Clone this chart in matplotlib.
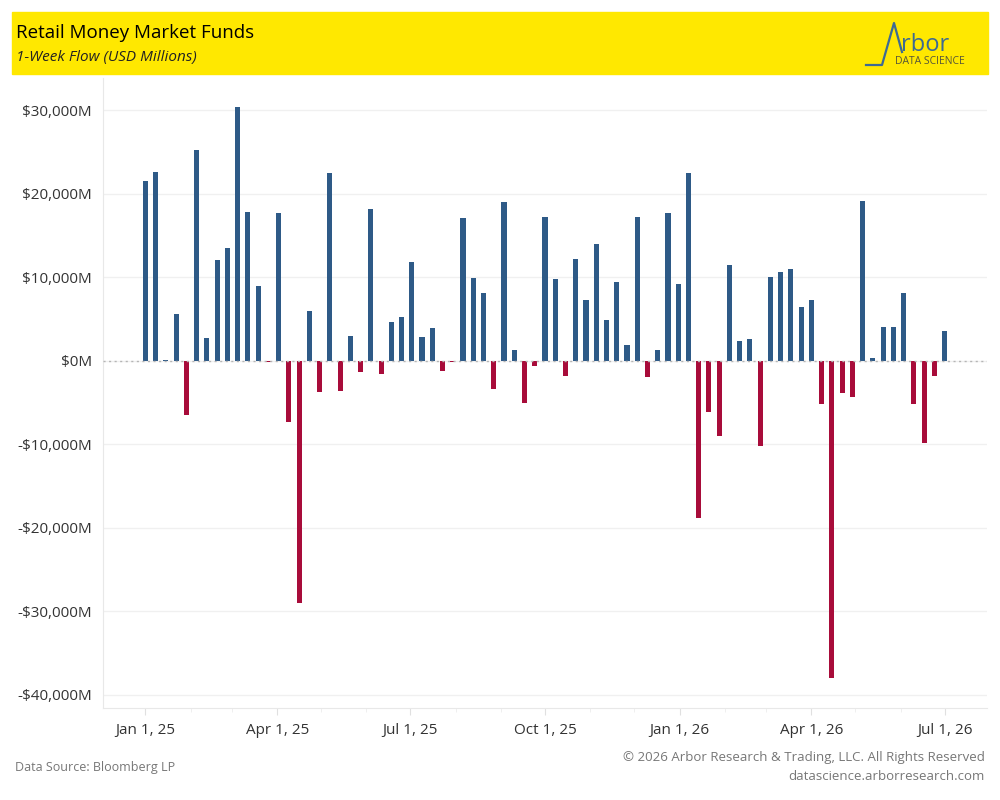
import matplotlib
matplotlib.use("Agg")
import matplotlib.pyplot as plt
import matplotlib.dates as mdates
import matplotlib.ticker as mticker
from matplotlib.patches import Rectangle
from matplotlib.lines import Line2D
import numpy as np
import pandas as pd

# weekly flows, USD millions (Wednesday dates)
weeks = pd.date_range("2025-01-01", periods=79, freq="7D")
flows = [
    21530, 22590, 120, 5620, -6550, 25210, 2750, 12080, 13540, 30380,
    17820, 8970, -120, 17700, -7390, -29050, 5980, -3800, 22460, -3680,
    2990, -1410, 18180, -1540, 4680, 5260, 11860, 2870, 3950, -1200,
    -120, 17130, 9940, 8140, -3350, 19040, 1320, -5030, -600, 17250,
    9820, -1800, 12220, 7310, 14010, 4910, 9460, 1920, 17250, -1920,
    1320, 17720, 9210, 22480, -18880, -6170, -9050, 11480, 2380, 2610,
    -10240, 10010, 10610, 10970, 6450, 7270, -5210, -37950, -3890, -4390,
    19110, 370, 4070, 4070, 8090, -5210, -9790, -1870, 3570,
]
yticks = [30000, 20000, 10000, 0, -10000, -20000, -30000, -40000]
xticks = ["2025-01-01", "2025-04-01", "2025-07-01", "2025-10-01",
          "2026-01-01", "2026-04-01", "2026-07-01"]

BLUE = "#2E5A87"
RED = "#A80C3A"
plt.rcParams["font.family"] = ["Open Sans", "DejaVu Sans"]

fig = plt.figure(figsize=(10, 8), dpi=100)

# yellow header band
fig.patches.append(Rectangle((0.012, 1 - 74 / 800), 0.976, 62 / 800,
                             transform=fig.transFigure, color="#FFE800", zorder=0))
fig.text(0.016, 1 - 33 / 800, "Retail Money Market Funds", fontsize=13.5,
         color="black", va="center", ha="left")
fig.text(0.016, 1 - 57 / 800, "1-Week Flow (USD Millions)", fontsize=11,
         style="italic", color="#222222", va="center", ha="left")

# logo
lx = np.array([866, 882, 894, 902]) / 1000
ly = 1 - np.array([65, 65, 23, 52]) / 800
fig.lines.append(Line2D(lx, ly, transform=fig.transFigure, color="#3D6A93", lw=1.6))
fig.text(0.901, 1 - 45 / 800, "rbor", fontsize=17, color="#3D6A93",
         va="center", ha="left")
fig.text(0.895, 1 - 61 / 800, "DATA SCIENCE", fontsize=7.5, color="#55553A",
         va="center", ha="left")

ax = fig.add_axes([0.103, 92 / 800, 0.884, 630 / 800])
colors = [BLUE if v >= 0 else RED for v in flows]
ax.bar(weeks, flows, width=3.5, color=colors, zorder=3)

ax.set_ylim(-41560, 33830)
ax.set_xlim(pd.Timestamp("2024-12-03"), pd.Timestamp("2026-07-30"))
ax.axhline(0, color="#B5B5B5", lw=1, ls=(0, (1.5, 2.5)), zorder=4)

ax.set_yticks(yticks)
ax.yaxis.set_major_formatter(mticker.FuncFormatter(
    lambda v, p: ("-$" if v < 0 else "$") + f"{abs(v):,.0f}M"))
ax.set_xticks(pd.to_datetime(xticks))
ax.xaxis.set_major_formatter(mdates.DateFormatter("%b %-d, %y"))
ax.xaxis.set_minor_locator(mdates.MonthLocator())

ax.grid(axis="y", color="#F0F0F0", lw=1, zorder=0)
for s in ["top", "right"]:
    ax.spines[s].set_visible(False)
for s in ["left", "bottom"]:
    ax.spines[s].set_color("#E8E8E8")
ax.tick_params(axis="y", length=0, labelsize=11, labelcolor="#333333", pad=8)
ax.tick_params(axis="x", which="major", length=5, color="#E0E0E0",
               labelsize=11, labelcolor="#333333", pad=6)
ax.tick_params(axis="x", which="minor", length=3, color="#ECECEC")

fig.text(0.015, 1 - 767 / 800, "Data Source: Bloomberg LP", fontsize=9,
         color="#777777", va="center", ha="left")
fig.text(0.985, 1 - 758 / 800, "\u00a9 2026 Arbor Research & Trading, LLC. All Rights Reserved",
         fontsize=9.5, color="#777777", va="center", ha="right")
fig.text(0.985, 1 - 776 / 800, "datascience.arborresearch.com", fontsize=9.5,
         color="#777777", va="center", ha="right")

fig.savefig("out.png", dpi=100)
